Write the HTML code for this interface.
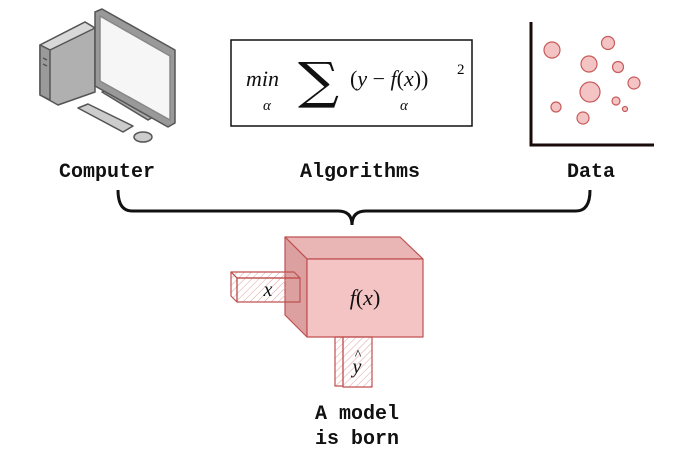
<!DOCTYPE html>
<html><head><style>
body{margin:0;background:#fff;width:700px;height:461px;overflow:hidden}
svg{display:block}
.m{font-family:"Liberation Mono",monospace;font-weight:bold;font-size:20px;fill:#111}
.s{font-family:"Liberation Serif",serif;font-style:italic;fill:#111}
</style></head><body>
<svg width="700" height="461" viewBox="0 0 700 461">
<defs>
<pattern id="h" width="5" height="5" patternUnits="userSpaceOnUse" patternTransform="rotate(45)">
<line x1="0" y1="0" x2="0" y2="5" stroke="#e0a0a0" stroke-width="1"/></pattern>
</defs>
<!-- computer -->
<g stroke="#555" stroke-width="1.5" stroke-linejoin="round">
<polygon points="40,45 85,22 95,28 95,92 58,105 40,95" fill="#b0b0b0"/>
<polygon points="40,45 85,22 95,28 50,50" fill="#d8d8d8"/>
<polygon points="40,45 50,50 50,100 40,95" fill="#9a9a9a"/>
<line x1="43" y1="58" x2="47" y2="60"/><line x1="43" y1="64" x2="47" y2="66"/>
<polygon points="102,92 108,89 155,116 148,120" fill="#aaa"/>
<polygon points="78,108 88,104 133,126 123,132" fill="#ccc"/>
<polygon points="95,12 102,9 175,50 175,123 168,127 95,86" fill="#999"/>
<polygon points="100,16 170,56 170,120 100,81" fill="#f6f6f6" stroke="#888"/>
<ellipse cx="143" cy="137" rx="9" ry="5" fill="#ccc"/>
</g>
<!-- equation -->
<rect x="231" y="40" width="241" height="86" fill="#fff" stroke="#111" stroke-width="1.5"/>
<text x="246" y="86" class="s" font-size="22">min</text>
<text x="263" y="110" class="s" font-size="15">α</text>
<text x="298" y="98" font-family="DejaVu Serif,serif" font-size="50" fill="#111" transform="translate(298,0) scale(1.15,1) translate(-298,0)">∑</text>
<text x="350" y="86" class="s" font-size="22"><tspan font-style="normal">(</tspan>y <tspan font-style="normal">−</tspan> f<tspan font-style="normal">(</tspan>x<tspan font-style="normal">))</tspan></text>
<text x="457" y="74" font-family="Liberation Serif,serif" font-size="15">2</text>
<text x="400" y="110" class="s" font-size="15">α</text>
<!-- data -->
<g stroke="#1a0a0a" stroke-width="3" fill="none"><polyline points="531,22 531,145 654,145"/></g>
<g fill="#f4c4c4" stroke="#c85a5a" stroke-width="1.2">
<circle cx="552" cy="50" r="8"/><circle cx="608" cy="43" r="6.5"/><circle cx="589" cy="64" r="8"/>
<circle cx="618" cy="67" r="5.5"/><circle cx="590" cy="92" r="10"/><circle cx="634" cy="83" r="6"/>
<circle cx="556" cy="107" r="5"/><circle cx="616" cy="101" r="4"/><circle cx="583" cy="118" r="6"/>
<circle cx="625" cy="109" r="2.5"/></g>
<!-- labels -->
<text x="107" y="177" class="m" text-anchor="middle">Computer</text>
<text x="360" y="177" class="m" text-anchor="middle">Algorithms</text>
<text x="591" y="177" class="m" text-anchor="middle">Data</text>
<!-- bracket -->
<path d="M118,190 Q118,211 132,211 L338,211 Q352,211 352,225 Q352,211 366,211 L576,211 Q590,211 590,190" fill="none" stroke="#111" stroke-width="3"/>
<!-- model -->
<g stroke="#c05050" stroke-width="1.2" stroke-linejoin="round">
<polygon points="285,237 400,237 423,259 307,259" fill="#e9b5b5"/>
<polygon points="285,237 307,259 307,337 285,315" fill="#dca0a0"/>
<rect x="307" y="259" width="116" height="78" fill="#f4c4c4"/>
<polygon points="231,272 294,272 300,278 237,278" fill="url(#h)"/>
<polygon points="231,272 237,278 237,302 231,296" fill="url(#h)"/>
<rect x="237" y="278" width="63" height="24" fill="url(#h)"/>
<rect x="335" y="337" width="8" height="49" fill="url(#h)"/>
<rect x="343" y="337" width="29" height="50" fill="url(#h)"/>
</g>
<text x="268" y="296" class="s" font-size="20" text-anchor="middle">x</text>
<text x="365" y="305" class="s" font-size="22" text-anchor="middle">f<tspan font-style="normal">(</tspan>x<tspan font-style="normal">)</tspan></text>
<text x="357" y="373" class="s" font-size="20" text-anchor="middle">y</text>
<text x="358" y="359" font-family="Liberation Serif,serif" font-size="14" text-anchor="middle">^</text>
<text x="357" y="419" class="m" text-anchor="middle">A model</text>
<text x="357" y="444" class="m" text-anchor="middle">is born</text>
</svg>
</body></html>
